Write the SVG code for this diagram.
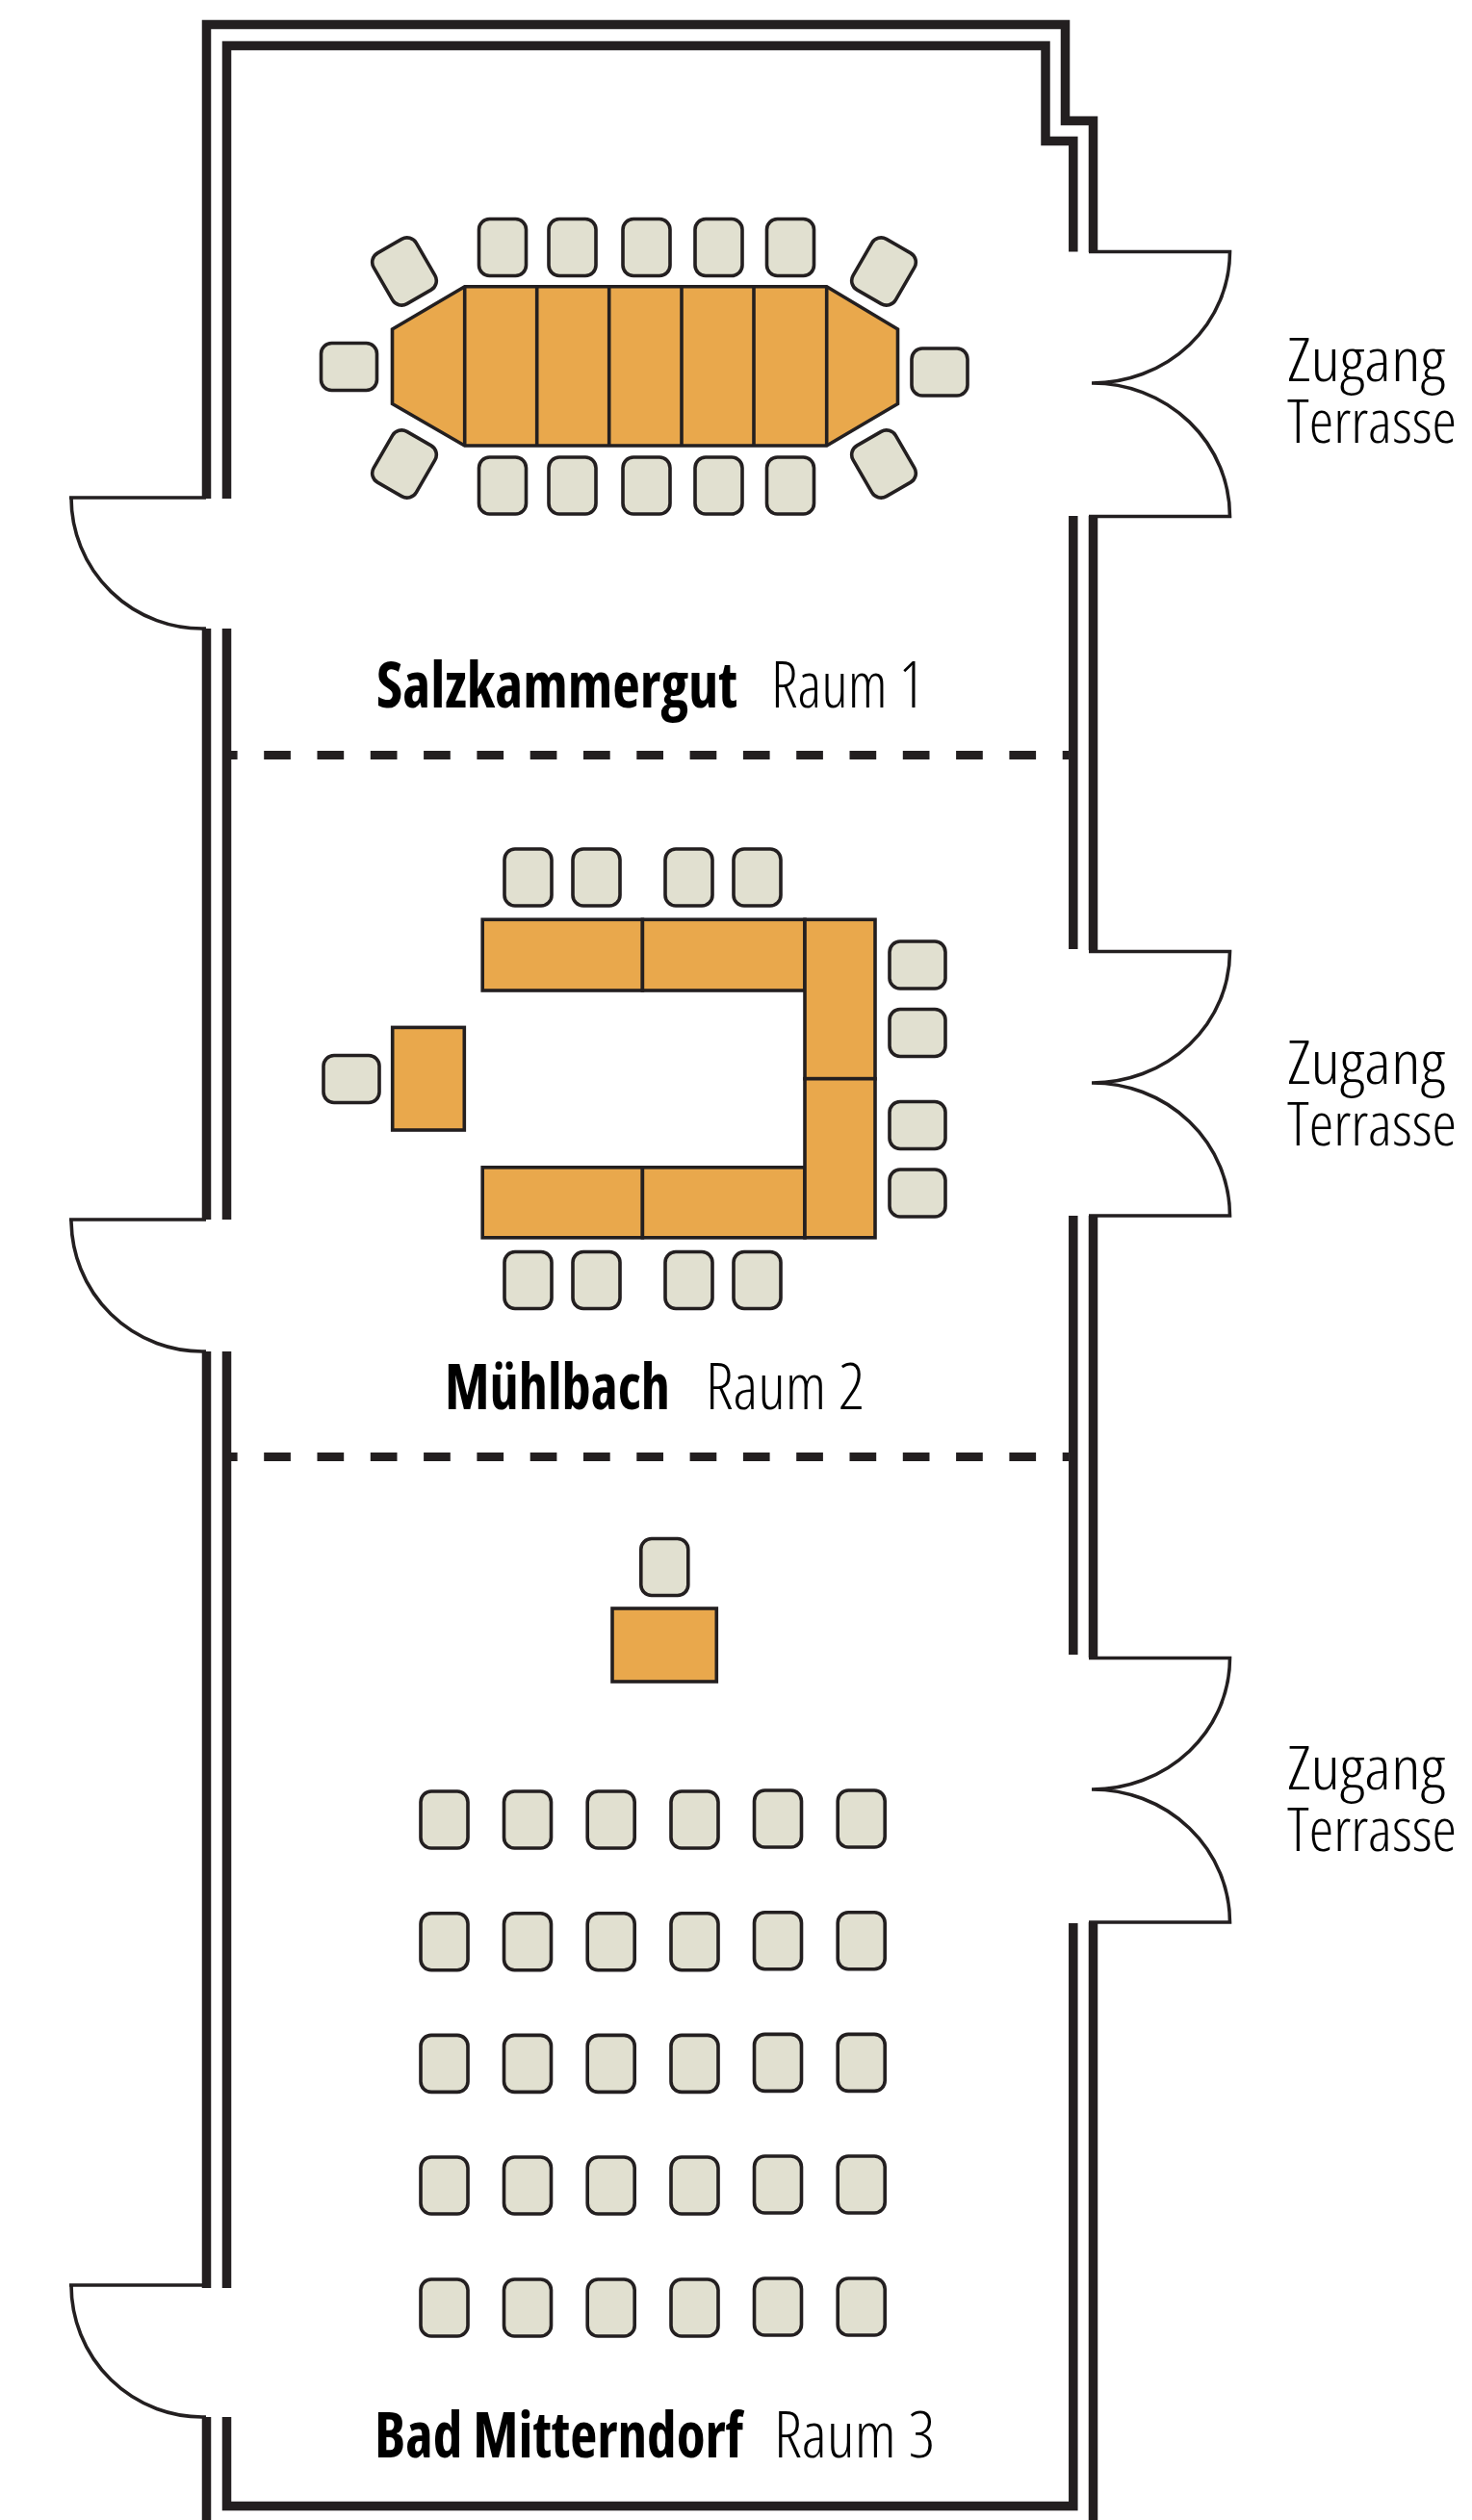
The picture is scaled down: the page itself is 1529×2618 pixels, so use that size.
<svg xmlns="http://www.w3.org/2000/svg" width="1529" height="2618" viewBox="0 0 1529 2618">
<style>
.w{fill:none;stroke:#231f20;stroke-width:9.5;stroke-miterlimit:10}
.d{fill:none;stroke:#231f20;stroke-width:3.6}
.p{fill:none;stroke:#231f20;stroke-width:9;stroke-dasharray:27.7 27.6;stroke-dashoffset:12.1}
.t{fill:#e9a84c;stroke:#231f20;stroke-width:3.6;stroke-linejoin:miter}
.c{fill:#e1e0d0;stroke:#231f20;stroke-width:3.6;rx:11px;ry:11px}
.n{font-family:"Open Sans","Noto Sans",sans-serif;font-size:66px;font-stretch:75%;fill:#000}
.z{font-size:62px}
.b{font-weight:700}
.l{font-weight:300}
</style>
<defs>
<rect id="v" class="c" x="0" y="0" width="49" height="59"/>
<rect id="h" class="c" x="0" y="0" width="58" height="49"/>
<rect id="r" class="c" x="-25.5" y="-30.5" width="51" height="61"/>
</defs>
<rect width="1529" height="2618" fill="#fff"/>

<g id="walls">
<path class="w" d="M214.5 518V25.5H1106.5V125.5H1135.5V262"/>
<path class="w" d="M235.5 518V47.5H1086V146.5H1114.8V261.5"/>
<path class="w" d="M214.5 653V1267M235.5 653V1267M214.5 1404V2377M235.5 1404V2377M214.5 2511V2618"/>
<path class="w" d="M235.5 2511V2603.5H1114.8V1998"/>
<path class="w" d="M1135.5 536V987M1114.8 536V986M1135.5 1263V1722M1114.8 1263V1719M1135.5 1997V2618"/>
</g>
<g id="partitions">
<path class="p" d="M231 784.5H1110"/>
<path class="p" d="M231 1513.5H1110"/>
</g>
<g id="doors">
<path id="door-left-1" class="d" d="M214 517H72M74 517A136 136 0 0 0 214 653"/>
<path id="door-left-2" class="d" d="M214 1267H72M74 1267A136 137 0 0 0 214 1404"/>
<path id="door-left-3" class="d" d="M214 2374H72M74 2374A136 137 0 0 0 214 2511"/>
<path id="door-right-1" class="d" d="M1131 261.5H1277.5A143 136.5 0 0 1 1134 398A143 138.5 0 0 1 1277.5 536.5H1131"/>
<path id="door-right-2" class="d" d="M1131 988.5H1277.5A143 136.5 0 0 1 1134 1125A143 138 0 0 1 1277.5 1263H1131"/>
<path id="door-right-3" class="d" d="M1131 1722.5H1277.5A143 136.5 0 0 1 1134 1859A143 138 0 0 1 1277.5 1997H1131"/>
</g>

<g id="room-1">
<g id="room-1-table">
<path class="t" d="M407.5 342L482.7 297.8H858.7L932.5 342V419.5L858.7 463H482.7L407.5 419.5Z"/>
<path class="t" d="M482.7 297.8V463M557.7 297.8V463M632.7 297.8V463M708 297.8V463M783 297.8V463M858.7 297.8V463"/>
</g>
<g id="room-1-chairs">
<use href="#v" x="497.5" y="227.5"/><use href="#v" x="570" y="227.5"/><use href="#v" x="647" y="227.5"/><use href="#v" x="722" y="227.5"/><use href="#v" x="796.5" y="227.5"/>
<use href="#v" x="497.5" y="475"/><use href="#v" x="570" y="475"/><use href="#v" x="647" y="475"/><use href="#v" x="722" y="475"/><use href="#v" x="796.5" y="475"/>
<use href="#h" x="333.5" y="356.5"/><use href="#h" x="947" y="362"/>
<use href="#r" transform="translate(420 282) rotate(-30)"/>
<use href="#r" transform="translate(918 282) rotate(30)"/>
<use href="#r" transform="translate(420 482) rotate(30)"/>
<use href="#r" transform="translate(918 482) rotate(-30)"/>
</g>
<text class="n b" x="391" y="735" textLength="375" lengthAdjust="spacingAndGlyphs">Salzkammergut</text>
<text class="n l" x="801" y="735" textLength="159" lengthAdjust="spacingAndGlyphs">Raum 1</text>
</g>

<g id="room-2">
<g id="room-2-tables">
<rect class="t" x="501.2" y="955.3" width="166.2" height="73.7"/>
<rect class="t" x="667.4" y="955.3" width="168.6" height="73.7"/>
<rect class="t" x="501.2" y="1212.8" width="166.2" height="73"/>
<rect class="t" x="667.4" y="1212.8" width="168.6" height="73"/>
<rect class="t" x="836" y="955.3" width="73" height="165.4"/>
<rect class="t" x="836" y="1120.7" width="73" height="165.1"/>
<rect class="t" x="407.7" y="1067.4" width="74.6" height="106.6"/>
</g>
<g id="room-2-chairs">
<use href="#v" x="524" y="882"/><use href="#v" x="595" y="882"/><use href="#v" x="691" y="882"/><use href="#v" x="762" y="882"/>
<use href="#v" x="524" y="1300.5"/><use href="#v" x="595" y="1300.5"/><use href="#v" x="691" y="1300.5"/><use href="#v" x="762" y="1300.5"/>
<use href="#h" x="336" y="1096.5"/>
<use href="#h" x="924" y="978"/><use href="#h" x="924" y="1048.5"/><use href="#h" x="924" y="1144.5"/><use href="#h" x="924" y="1215"/>
</g>
<text class="n b" x="462" y="1464" textLength="234" lengthAdjust="spacingAndGlyphs">Mühlbach</text>
<text class="n l" x="733" y="1464" textLength="165" lengthAdjust="spacingAndGlyphs">Raum 2</text>
</g>

<g id="room-3">
<rect class="t" x="636" y="1671" width="108.3" height="76"/>
<use href="#v" x="665.8" y="1598.5"/>
<g id="room-3-chairs">
<use href="#v" x="437" y="1861"/><use href="#v" x="523.5" y="1861"/><use href="#v" x="610.2" y="1861"/><use href="#v" x="697" y="1861"/><use href="#v" x="783.5" y="1860"/><use href="#v" x="870.2" y="1860"/>
<use href="#v" x="437" y="1987.7"/><use href="#v" x="523.5" y="1987.7"/><use href="#v" x="610.2" y="1987.7"/><use href="#v" x="697" y="1987.7"/><use href="#v" x="783.5" y="1986.7"/><use href="#v" x="870.2" y="1986.7"/>
<use href="#v" x="437" y="2114.4"/><use href="#v" x="523.5" y="2114.4"/><use href="#v" x="610.2" y="2114.4"/><use href="#v" x="697" y="2114.4"/><use href="#v" x="783.5" y="2113.4"/><use href="#v" x="870.2" y="2113.4"/>
<use href="#v" x="437" y="2241"/><use href="#v" x="523.5" y="2241"/><use href="#v" x="610.2" y="2241"/><use href="#v" x="697" y="2241"/><use href="#v" x="783.5" y="2240"/><use href="#v" x="870.2" y="2240"/>
<use href="#v" x="437" y="2368"/><use href="#v" x="523.5" y="2368"/><use href="#v" x="610.2" y="2368"/><use href="#v" x="697" y="2368"/><use href="#v" x="783.5" y="2367"/><use href="#v" x="870.2" y="2367"/>
</g>
<text class="n b" x="389" y="2553" textLength="383" lengthAdjust="spacingAndGlyphs">Bad Mitterndorf</text>
<text class="n l" x="804" y="2553" textLength="167" lengthAdjust="spacingAndGlyphs">Raum 3</text>
</g>

<g id="labels">
<text class="n l z" x="1337" y="396" textLength="164" lengthAdjust="spacingAndGlyphs">Zugang</text>
<text class="n l z" x="1337" y="460" textLength="176" lengthAdjust="spacingAndGlyphs">Terrasse</text>
<text class="n l z" x="1337" y="1126" textLength="164" lengthAdjust="spacingAndGlyphs">Zugang</text>
<text class="n l z" x="1337" y="1190" textLength="176" lengthAdjust="spacingAndGlyphs">Terrasse</text>
<text class="n l z" x="1337" y="1859" textLength="164" lengthAdjust="spacingAndGlyphs">Zugang</text>
<text class="n l z" x="1337" y="1923" textLength="176" lengthAdjust="spacingAndGlyphs">Terrasse</text>
</g>
</svg>
